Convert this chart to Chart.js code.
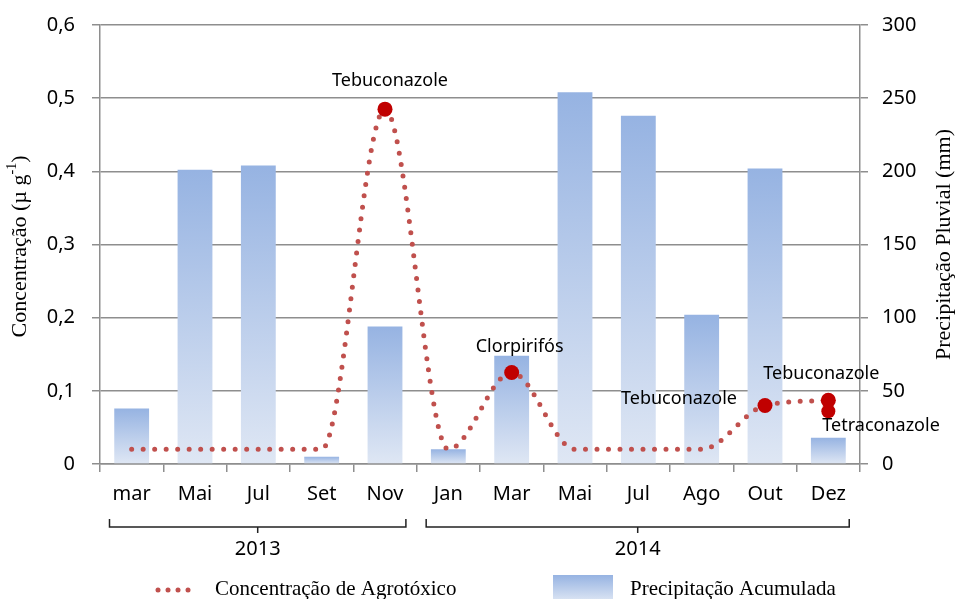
<!DOCTYPE html>
<html>
<head>
<meta charset="utf-8">
<script src="https://cdn.jsdelivr.net/npm/chart.js@4.4.0/dist/chart.umd.min.js"></script>
<style>
  html, body { margin: 0; padding: 0; background: #fff; }
  #wrap { width: 960px; height: 599px; position: relative; }
</style>
</head>
<body>
<div id="wrap"><canvas id="chart"></canvas></div>
<script>
// categories (months, Mar/2013 - Dez/2014)
const months = ["mar", "Mai", "Jul", "Set", "Nov", "Jan", "Mar", "Mai", "Jul", "Ago", "Out", "Dez"];
const years = ["2013", "2014"];
const yearSpans = [[0, 4], [5, 11]];

// precipitação acumulada (mm) - right axis
const rainfall = [38, 201, 204, 5, 94, 10, 74, 254, 238, 102, 202, 18];

// concentração (µg g-1) - left axis
const concentration = [0.02, 0.02, 0.02, 0.02, 0.485, 0.02, 0.125, 0.02, 0.02, 0.02, 0.08, 0.087];
const detections = [null, null, null, null, 0.485, null, 0.125, null, null, null, 0.08, 0.087];
const detectionNames = [null, null, null, null, "Tebuconazole", null, "Clorpirifós", null, null, null, "Tebuconazole", "Tebuconazole"];
const tetraconazole = [null, null, null, null, null, null, null, null, null, null, null, 0.072];

// ticks
const leftTicks = [0, 0.1, 0.2, 0.3, 0.4, 0.5, 0.6];
const rightTicks = [0, 50, 100, 150, 200, 250, 300];

const gridColor = "#8e8e8e";
const tickFont = { family: "'Noto Sans', sans-serif", size: 20 };
const serif = "'Liberation Serif', 'Times New Roman', serif";

// label offsets (px) for the point annotations, by category index
const labelPos = {
  4: { dx: 5, dy: -28, align: "center" },
  6: { dx: 8, dy: -26, align: "center" },
  10: { dx: -28, dy: -7, align: "right" },
  11: { dx: -65, dy: -26, align: "left" }
};

function barGradient(ctx){
  const chart = ctx.chart;
  if(!chart.chartArea) return "#a9c0e6";
  const ys = chart.scales.y1;
  const top = ys.getPixelForValue(ctx.raw);
  const bottom = ys.getPixelForValue(0);
  const g = chart.ctx.createLinearGradient(0, top, 0, bottom);
  g.addColorStop(0, "#96b3e2");
  g.addColorStop(1, "#dfe7f4");
  return g;
}

// fixed axis sizes, no extra padding for overhanging labels
function fixWidth(s){
  s.width = 100;
  s.paddingTop = 0;
  s.paddingBottom = 0;
}

const extras = {
  id: "extras",
  afterDraw(chart){
    const c = chart.ctx;
    const x = chart.scales.x, y = chart.scales.y;
    const area = chart.chartArea;
    const step = x.getPixelForValue(1) - x.getPixelForValue(0);
    c.save();

    // point labels
    c.fillStyle = "#000";
    c.font = "18px 'Noto Sans', sans-serif";
    c.textBaseline = "middle";
    detections.forEach((v, i) => {
      if(v === null) return;
      const p = labelPos[i];
      c.textAlign = p.align;
      c.fillText(detectionNames[i], x.getPixelForValue(i) + p.dx, y.getPixelForValue(v) + p.dy);
    });
    c.textAlign = "left";
    c.fillText("Tetraconazole", x.getPixelForValue(11) - 6, y.getPixelForValue(tetraconazole[11]) + 15);

    // year brackets
    const by = area.bottom + 63;
    c.strokeStyle = "#222";
    c.lineWidth = 1.5;
    c.font = "20px 'Noto Sans', sans-serif";
    c.textAlign = "center";
    yearSpans.forEach((s, k) => {
      const l = x.getPixelForValue(s[0]) - step * 0.35;
      const r = x.getPixelForValue(s[1]) + step * 0.33;
      const m = (l + r) / 2;
      c.beginPath();
      c.moveTo(l, by - 8); c.lineTo(l, by); c.lineTo(r, by); c.lineTo(r, by - 8);
      c.moveTo(m, by); c.lineTo(m, by + 6);
      c.stroke();
      c.fillText(years[k], m, by + 22);
    });

    // axis titles
    c.font = "22px " + serif;
    c.textBaseline = "middle";
    c.save();
    c.translate(20, (area.top + area.bottom) / 2 + 2);
    c.rotate(-Math.PI / 2);
    c.textAlign = "left";
    const t1 = "Concentração (µ g", t2 = "-1", t3 = ")";
    const w1 = c.measureText(t1).width;
    c.font = "14px " + serif;
    const w2 = c.measureText(t2).width;
    c.font = "22px " + serif;
    const w3 = c.measureText(t3).width;
    const start = -(w1 + w2 + w3) / 2;
    c.fillText(t1, start, 0);
    c.font = "14px " + serif;
    c.fillText(t2, start + w1, -8);
    c.font = "22px " + serif;
    c.fillText(t3, start + w1 + w2, 0);
    c.restore();

    c.save();
    c.translate(944, (area.top + area.bottom) / 2);
    c.rotate(-Math.PI / 2);
    c.textAlign = "center";
    c.fillText("Precipitação Pluvial (mm)", 0, 0);
    c.restore();

    // legend
    const ly = area.bottom + 126;
    c.fillStyle = "#c0504d";
    for(let i = 0; i < 4; i++){
      c.beginPath();
      c.arc(158 + i * 10, ly, 2.5, 0, Math.PI * 2);
      c.fill();
    }
    c.fillStyle = "#000";
    c.font = "21px " + serif;
    c.textAlign = "left";
    c.fillText("Concentração de Agrotóxico", 215, ly - 1);
    const g = c.createLinearGradient(0, ly - 15, 0, ly + 12);
    g.addColorStop(0, "#96b3e2");
    g.addColorStop(1, "#dfe7f4");
    c.fillStyle = g;
    c.fillRect(553, ly - 15, 60, 27);
    c.fillStyle = "#000";
    c.fillText("Precipitação Acumulada", 630, ly - 1);

    c.restore();
  }
};

new Chart(document.getElementById("chart"), {
  type: "bar",
  data: {
    labels: months,
    datasets: [
      {
        type: "line",
        label: "Tetraconazole",
        data: tetraconazole,
        yAxisID: "y",
        showLine: false,
        pointRadius: 7,
        pointBackgroundColor: "#c00000",
        pointBorderWidth: 0,
        order: 0
      },
      {
        type: "line",
        label: "Detecções",
        data: detections,
        yAxisID: "y",
        showLine: false,
        pointRadius: 7.5,
        pointBackgroundColor: "#c00000",
        pointBorderWidth: 0,
        order: 1
      },
      {
        type: "line",
        label: "Concentração de Agrotóxico",
        data: concentration,
        yAxisID: "y",
        borderColor: "#c0504d",
        borderWidth: 5,
        borderDash: [0, 11.5],
        borderCapStyle: "round",
        cubicInterpolationMode: "monotone",
        pointRadius: 0,
        fill: false,
        order: 2
      },
      {
        type: "bar",
        label: "Precipitação Acumulada",
        data: rainfall,
        yAxisID: "y1",
        backgroundColor: barGradient,
        categoryPercentage: 1,
        barPercentage: 0.55,
        order: 3
      }
    ]
  },
  options: {
    responsive: true,
    maintainAspectRatio: false,
    animation: false,
    layout: { padding: { top: 25, left: 0, right: 0, bottom: 0 } },
    plugins: { legend: { display: false }, tooltip: { enabled: false } },
    scales: {
      x: {
        offset: true,
        grid: { offset: true, drawOnChartArea: false, color: gridColor, lineWidth: 1.5, tickLength: 8 },
        border: { color: gridColor, width: 1.5 },
        ticks: { color: "#000", font: tickFont, padding: 10, maxRotation: 0 },
        afterFit: s => { s.height = 135; }
      },
      y: {
        position: "left",
        min: leftTicks[0],
        max: leftTicks[leftTicks.length - 1],
        afterBuildTicks: s => { s.ticks = leftTicks.map(v => ({ value: v })); },
        ticks: { color: "#000", font: tickFont, padding: 17,
          callback: v => v === 0 ? "0" : v.toFixed(1).replace(".", ",") },
        grid: { color: gridColor, lineWidth: 1.5, tickLength: 8 },
        border: { color: gridColor, width: 1.5 },
        afterFit: fixWidth
      },
      y1: {
        position: "right",
        min: rightTicks[0],
        max: rightTicks[rightTicks.length - 1],
        afterBuildTicks: s => { s.ticks = rightTicks.map(v => ({ value: v })); },
        ticks: { color: "#000", font: tickFont, padding: 14 },
        grid: { drawOnChartArea: false, color: gridColor, lineWidth: 1.5, tickLength: 8 },
        border: { color: gridColor, width: 1.5 },
        afterFit: fixWidth
      }
    }
  },
  plugins: [extras]
});
</script>
</body>
</html>
